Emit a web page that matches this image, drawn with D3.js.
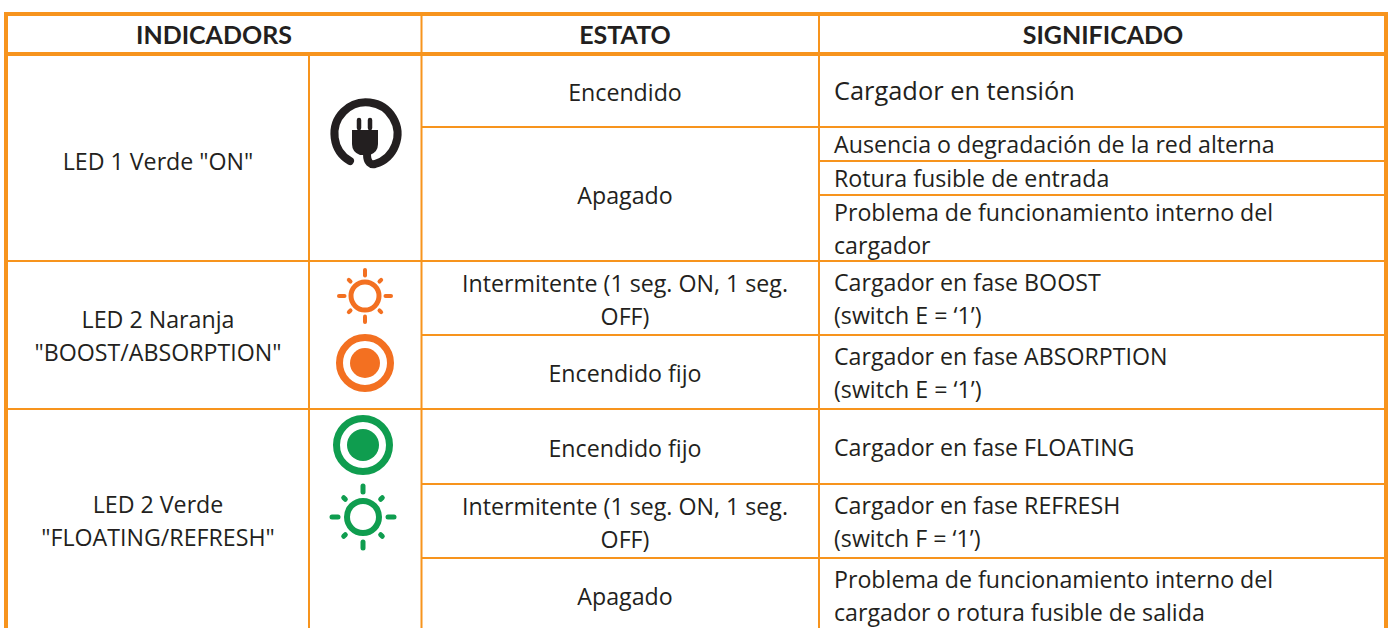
<!DOCTYPE html>
<html>
<head>
<meta charset="utf-8">
<script src="https://cdn.jsdelivr.net/npm/d3@7"></script>
<style>
	html, body { margin: 0; padding: 0; background: #fff; overflow: hidden; }
</style>
</head>
<body>
<div id="TABLA"></div>
<script>
// table content
var aHeaders = ["INDICADORS", "ESTATO", "SIGNIFICADO"];
var aIndicadores = [
	['LED 1 Verde "ON"'],
	['LED 2 Naranja', '"BOOST/ABSORPTION"'],
	['LED 2 Verde', '"FLOATING/REFRESH"']
];
var aEstados = [
	["Encendido"],
	["Apagado"],
	["Intermitente (1 seg. ON, 1 seg.", "OFF)"],
	["Encendido fijo"],
	["Encendido fijo"],
	["Intermitente (1 seg. ON, 1 seg.", "OFF)"],
	["Apagado"]
];
var aSignificados = [
	["Cargador en tensión"],
	["Ausencia o degradación de la red alterna"],
	["Rotura fusible de entrada"],
	["Problema de funcionamiento interno del", "cargador"],
	["Cargador en fase BOOST", "(switch E = ‘1’)"],
	["Cargador en fase ABSORPTION", "(switch E = ‘1’)"],
	["Cargador en fase FLOATING"],
	["Cargador en fase REFRESH", "(switch F = ‘1’)"],
	["Problema de funcionamiento interno del", "cargador o rotura fusible de salida"]
];

// which table rows every cell spans, rows are counted from the header
var aIndicadorSpan = [[1, 5], [5, 7], [7, 10]];
var aEstadoSpan = [[1, 2], [2, 5], [5, 6], [6, 7], [7, 8], [8, 9], [9, 10]];
var aSignificadoSpan = [[1, 2], [2, 3], [3, 4], [4, 5], [5, 6], [6, 7], [7, 8], [8, 9], [9, 10]];

// layout
var iWidth = 1391, iHeight = 628;
var aRowY = [14, 54, 127, 161, 195, 261, 335, 409, 484, 558, 632];
var sOrange = "#f7941d", sText = "#231f20";
var sBodyFont = "'Open Sans', sans-serif";
var iBodySize = 23.2;
var iLineHeight = 33;

var yRow = d3.scaleOrdinal().domain(d3.range(aRowY.length)).range(aRowY);

var svg = d3.select("#TABLA").append("svg")
	.attr("width", iWidth)
	.attr("height", iHeight)
	.style("display", "block");

// grid lines
var aHLines = [
	{row: 0, x1: 4, x2: 1388, w: 4},
	{row: 1, x1: 4, x2: 1388, w: 4},
	{row: 2, x1: 421, x2: 1386, w: 2},
	{row: 3, x1: 819, x2: 1386, w: 2},
	{row: 4, x1: 819, x2: 1386, w: 2},
	{row: 5, x1: 6, x2: 1386, w: 2},
	{row: 6, x1: 421, x2: 1386, w: 2},
	{row: 7, x1: 6, x2: 1386, w: 2},
	{row: 8, x1: 421, x2: 1386, w: 2},
	{row: 9, x1: 421, x2: 1386, w: 2}
];
var aVLines = [
	{x: 6, y1: 12, y2: iHeight, w: 4},
	{x: 309, y1: 54, y2: iHeight, w: 2},
	{x: 421.5, y1: 14, y2: iHeight, w: 2},
	{x: 819, y1: 14, y2: iHeight, w: 2},
	{x: 1386, y1: 12, y2: iHeight, w: 4}
];

svg.append("g").selectAll("line").data(aHLines).enter().append("line")
	.attr("x1", function(d) { return d.x1; })
	.attr("x2", function(d) { return d.x2; })
	.attr("y1", function(d) { return yRow(d.row); })
	.attr("y2", function(d) { return yRow(d.row); })
	.attr("stroke", sOrange)
	.attr("stroke-width", function(d) { return d.w; });

svg.append("g").selectAll("line").data(aVLines).enter().append("line")
	.attr("x1", function(d) { return d.x; })
	.attr("x2", function(d) { return d.x; })
	.attr("y1", function(d) { return d.y1; })
	.attr("y2", function(d) { return d.y2; })
	.attr("stroke", sOrange)
	.attr("stroke-width", function(d) { return d.w; });

// header
svg.append("g").selectAll("text").data(aHeaders).enter().append("text")
	.attr("x", function(d, i) { return [214, 625, 1103][i]; })
	.attr("y", 35)
	.attr("dy", "0.35em")
	.attr("text-anchor", "middle")
	.attr("font-family", "Lato, sans-serif")
	.attr("font-weight", 700)
	.attr("font-size", 25)
	.attr("fill", sText)
	.text(function(d) { return d; });

// one text column: every cell is centred on its rows
function DrawColumn(aCells, aSpans, iX, sAnchor, iShift)
{
	var gCol = svg.append("g");
	aCells.forEach(function(aLines, i) {
		var iMid = (yRow(aSpans[i][0]) + yRow(aSpans[i][1])) / 2 + iShift;
		gCol.selectAll(null).data(aLines).enter().append("text")
			.attr("x", iX)
			.attr("y", function(d, j) { return iMid + (j - (aLines.length - 1) / 2) * iLineHeight; })
			.attr("dy", "0.35em")
			.attr("text-anchor", sAnchor)
			.attr("font-family", sBodyFont)
			.attr("font-size", iBodySize)
			.attr("fill", sText)
			.text(function(d) { return d; });
	});
	return gCol;
}

var gIndicador = DrawColumn(aIndicadores, aIndicadorSpan, 158, "middle", 1);
gIndicador.select("text").attr("dy", "0.5em");
DrawColumn(aEstados, aEstadoSpan, 625, "middle", 2);
var gSignificado = DrawColumn(aSignificados, aSignificadoSpan, 834, "start", 1);
gSignificado.select("text").attr("font-size", 25.4);

// icons
function DrawPlug(cx, cy)
{
	var g = svg.append("g").attr("transform", "translate(" + cx + "," + cy + ")");
	g.append("path")
		.attr("d", "M-16,27 A31.5,31.5 0 1 1 9,30 C5,31 1,29 1,20")
		.attr("fill", "none")
		.attr("stroke", sText)
		.attr("stroke-width", 8)
		.attr("stroke-linecap", "round");
	g.append("path")
		.attr("d", "M-14,-4 H12 V10 Q12,18 4,21 H-6 Q-14,18 -14,10 Z")
		.attr("fill", sText);
	g.append("path")
		.attr("d", "M-7,-6 V-14 M4,-6 V-14")
		.attr("stroke", sText)
		.attr("stroke-width", 4.5)
		.attr("stroke-linecap", "round");
}

function DrawSun(cx, cy, iRing, iStroke, iRay0, iRay1, iRayW, sColor)
{
	var g = svg.append("g").attr("transform", "translate(" + cx + "," + cy + ")");
	g.append("circle").attr("r", iRing)
		.attr("fill", "none")
		.attr("stroke", sColor)
		.attr("stroke-width", iStroke);
	g.selectAll("line").data(d3.range(8)).enter().append("line")
		.attr("x1", function(d) { return iRay0 * Math.cos(d * Math.PI / 4); })
		.attr("y1", function(d) { return iRay0 * Math.sin(d * Math.PI / 4); })
		.attr("x2", function(d) { return (d % 2 ? iRay1 * 0.88 : iRay1) * Math.cos(d * Math.PI / 4); })
		.attr("y2", function(d) { return (d % 2 ? iRay1 * 0.88 : iRay1) * Math.sin(d * Math.PI / 4); })
		.attr("stroke", sColor)
		.attr("stroke-width", iRayW)
		.attr("stroke-linecap", "round");
}

function DrawTarget(cx, cy, iRing, iStroke, iDot, sColor)
{
	var g = svg.append("g").attr("transform", "translate(" + cx + "," + cy + ")");
	g.append("circle").attr("r", iRing)
		.attr("fill", "none")
		.attr("stroke", sColor)
		.attr("stroke-width", iStroke);
	g.append("circle").attr("r", iDot).attr("fill", sColor);
}

DrawPlug(366, 134);
DrawSun(365, 296, 14, 5, 20.5, 26, 4, "#f37021");
DrawTarget(365, 363, 25.5, 7, 15, "#f37021");
DrawTarget(363, 445, 26.5, 7, 16, "#0f9d4f");
DrawSun(363, 517, 16, 6, 25, 31, 5, "#0f9d4f");
</script>
</body>
</html>
